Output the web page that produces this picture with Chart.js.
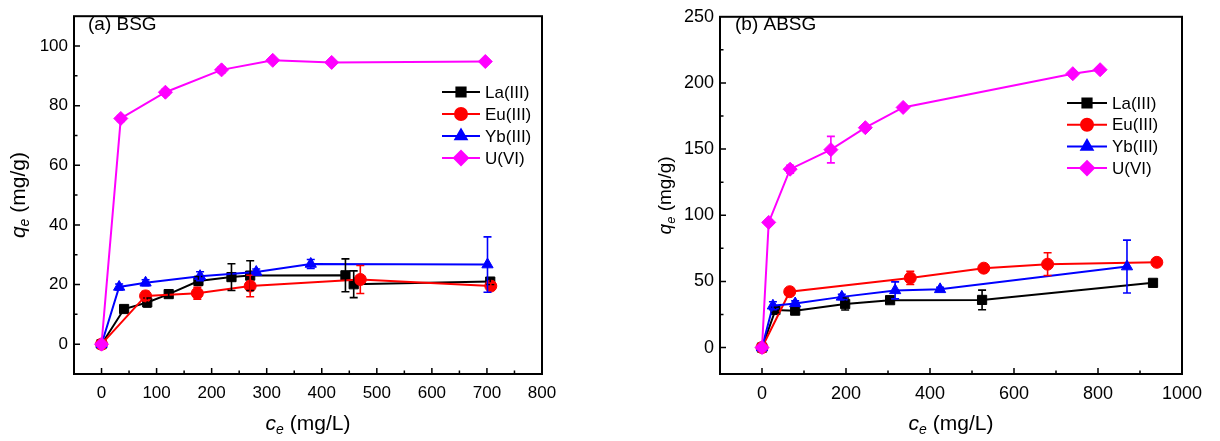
<!DOCTYPE html>
<html>
<head>
<meta charset="utf-8">
<title>Adsorption isotherms</title>
<script src="https://cdn.jsdelivr.net/npm/chart.js@4.4.0/dist/chart.umd.min.js"></script>
<style>
    body { margin: 0; background: #fff; width: 1220px; height: 441px; position: relative; overflow: hidden; }
    .box { position: absolute; top: 0; height: 441px; }
    #boxA { left: 0; width: 610px; }
    #boxB { left: 640px; width: 580px; }
</style>
</head>
<body>
<div class="box" id="boxA"><canvas id="chartA" width="610" height="441"></canvas></div>
<div class="box" id="boxB"><canvas id="chartB" width="580" height="441"></canvas></div>
<script>
// (a) BSG
const laA_x = [0, 41, 83, 122, 176, 236, 270, 443, 458, 706];
const laA_y = [0, 11.8, 14, 16.8, 21.2, 22.5, 23, 23.1, 20.1, 21];
const laA_err = [0, 1, 1.5, 1, 1.5, 4.5, 5, 5.5, 4.5, 1];
const euA_x = [0, 80, 174, 270, 470, 707];
const euA_y = [0, 16.2, 17.1, 19.5, 21.7, 19.5];
const euA_err = [0, 1.5, 2, 3.6, 4.7, 1];
const ybA_x = [0, 32, 80, 179, 281, 380, 701];
const ybA_y = [0, 19.2, 20.6, 22.8, 24.2, 26.9, 26.7];
const ybA_err = [0, 1, 1, 1.5, 1, 1.5, 9.3];
const uA_x = [0, 35, 116, 218, 311, 418, 697];
const uA_y = [0, 75.7, 84.5, 92, 95.2, 94.5, 94.8];
const uA_err = [0, 1, 1, 1, 0.5, 0.5, 0.5];

// (b) ABSG
const laB_x = [0, 32, 79, 198, 305, 524, 931];
const laB_y = [0, 28.4, 27.9, 32.9, 35.8, 36, 48.9];
const laB_err = [0, 2, 2, 4.5, 2, 7.4, 2];
const euB_x = [0, 66, 353, 528, 680, 940];
const euB_y = [0, 42.2, 52.6, 60, 63, 64.4];
const euB_err = [0, 1, 5, 1.5, 8.6, 2];
const ybB_x = [0, 26, 79, 190, 317, 424, 869];
const ybB_y = [0, 31.6, 33.3, 38.3, 43.2, 44, 61.2];
const ybB_err = [0, 3, 2, 2, 6.4, 1.5, 20];
const uB_x = [0, 16, 67, 164, 246, 336, 740, 805];
const uB_y = [0, 94.6, 134.8, 149.6, 166.2, 181.5, 207, 210];
const uB_err = [0, 2, 3, 10, 2, 1.5, 1.5, 1.5];

const seriesNames = ['La(III)', 'Eu(III)', 'Yb(III)', 'U(VI)'];

const xTicksA = [0, 100, 200, 300, 400, 500, 600, 700, 800];
const yTicksA = [0, 20, 40, 60, 80, 100];
const xTicksB = [0, 200, 400, 600, 800, 1000];
const yTicksB = [0, 50, 100, 150, 200, 250];

const FONT = "'Liberation Sans', Arial, sans-serif";
const styles = [
    { color: '#000000', pointStyle: 'rect', radius: 6.5 },
    { color: '#ff0000', pointStyle: 'circle', radius: 6 },
    { color: '#0000ff', pointStyle: 'triangle', radius: 6.5 },
    { color: '#ff00ff', pointStyle: 'rectRot', radius: 7 }
];

function toPoints(xs, ys) {
    return xs.map((x, i) => ({ x: x, y: ys[i] }));
}

function makeDataset(i, xs, ys, errs) {
    let s = styles[i];
    return {
        label: seriesNames[i],
        data: toPoints(xs, ys),
        errors: errs,
        borderColor: s.color,
        backgroundColor: s.color,
        pointBackgroundColor: s.color,
        pointBorderColor: s.color,
        pointStyle: s.pointStyle,
        pointRadius: s.radius,
        pointBorderWidth: 1,
        borderWidth: 2,
        tension: 0,
        order: 3 - i
    };
}

// frame, inward ticks, error bars, legend and axis titles
const decor = {
    id: 'decor',
    afterDatasetsDraw(chart, args, opts) {
        let ctx = chart.ctx;
        let xs = chart.scales.x, ys = chart.scales.y;
        ctx.save();
        ctx.lineWidth = 1.6;
        chart.data.datasets.forEach(ds => {
            ctx.strokeStyle = ds.borderColor;
            ds.data.forEach((p, i) => {
                let e = ds.errors[i];
                if (!e) return;
                let px = xs.getPixelForValue(p.x);
                let top = ys.getPixelForValue(p.y + e);
                let bot = ys.getPixelForValue(p.y - e);
                ctx.beginPath();
                ctx.moveTo(px, top); ctx.lineTo(px, bot);
                ctx.moveTo(px - 4, top); ctx.lineTo(px + 4, top);
                ctx.moveTo(px - 4, bot); ctx.lineTo(px + 4, bot);
                ctx.stroke();
            });
        });
        ctx.restore();
    },
    afterDraw(chart, args, opts) {
        let ctx = chart.ctx;
        let a = chart.chartArea;
        let xs = chart.scales.x, ys = chart.scales.y;
        ctx.save();
        ctx.strokeStyle = '#000';
        ctx.lineWidth = 2;
        ctx.strokeRect(a.left, a.top, a.right - a.left, a.bottom - a.top);

        // ticks pointing into the plot
        ctx.lineWidth = 1.5;
        ctx.beginPath();
        for (let v = opts.xMin; v <= xs.max; v += opts.xMinor) {
            let px = xs.getPixelForValue(v);
            if (px <= a.left + 1 || px >= a.right - 1) continue;
            let len = (v % opts.xMajor === 0) ? 6 : 3.5;
            ctx.moveTo(px, a.bottom); ctx.lineTo(px, a.bottom - len);
        }
        for (let v = opts.yMin; v <= ys.max; v += opts.yMinor) {
            let py = ys.getPixelForValue(v);
            if (py >= a.bottom - 1 || py <= a.top + 1) continue;
            let len = (v % opts.yMajor === 0) ? 6 : 3.5;
            ctx.moveTo(a.left, py); ctx.lineTo(a.left + len, py);
        }
        ctx.stroke();

        // panel label
        ctx.fillStyle = '#000';
        ctx.font = '19px ' + FONT;
        ctx.textBaseline = 'middle';
        ctx.textAlign = 'left';
        ctx.fillText(opts.panel, opts.panelX, 25);

        // legend
        ctx.font = '17px ' + FONT;
        chart.data.datasets.forEach((ds, i) => {
            let y = opts.legY + i * opts.legGap;
            ctx.strokeStyle = ds.borderColor;
            ctx.lineWidth = 2;
            ctx.beginPath();
            ctx.moveTo(opts.legX, y); ctx.lineTo(opts.legX + opts.legLen, y);
            ctx.stroke();
            ctx.fillStyle = ds.borderColor;
            Chart.helpers.drawPoint(ctx, {
                pointStyle: ds.pointStyle, radius: ds.pointRadius, rotation: 0, borderWidth: 1
            }, opts.legX + opts.legLen / 2, y);
            ctx.fillStyle = '#000';
            ctx.fillText(ds.label, opts.legX + opts.legLen + 5, y + 1);
        });

        // x title: c_e (mg/L)
        drawSubTitle(ctx, 'c', 'e', ' (mg/L)', (a.left + a.right) / 2, 423, 0, 21);
        // y title: q_e (mg/g)
        drawSubTitle(ctx, 'q', 'e', ' (mg/g)', opts.yTitleX, (a.top + a.bottom) / 2, -Math.PI / 2, opts.yTitleSize);
        ctx.restore();
    }
};

function drawSubTitle(ctx, main, sub, rest, cx, cy, rot, size) {
    ctx.save();
    ctx.translate(cx, cy);
    ctx.rotate(rot);
    ctx.fillStyle = '#000';
    ctx.textBaseline = 'alphabetic';
    ctx.textAlign = 'left';
    let fMain = 'italic ' + size + 'px ' + FONT;
    let fSub = 'italic ' + Math.round(size * 0.66) + 'px ' + FONT;
    let fRest = size + 'px ' + FONT;
    ctx.font = fMain; let w1 = ctx.measureText(main).width;
    ctx.font = fSub; let w2 = ctx.measureText(sub).width;
    ctx.font = fRest; let w3 = ctx.measureText(rest).width;
    let x = -(w1 + w2 + w3) / 2;
    let base = size * 0.33;
    ctx.font = fMain; ctx.fillText(main, x, base); x += w1;
    ctx.font = fSub; ctx.fillText(sub, x, base + size * 0.2); x += w2;
    ctx.font = fRest; ctx.fillText(rest, x, base);
    ctx.restore();
}

function makeChart(id, datasets, cfg) {
    let ctx = document.getElementById(id).getContext('2d');
    return new Chart(ctx, {
        type: 'line',
        data: { datasets: datasets },
        options: {
            responsive: false,
            animation: false,
            layout: { padding: { top: cfg.padTop, right: cfg.padRight, left: 0, bottom: 0 } },
            plugins: {
                legend: { display: false },
                tooltip: { enabled: false },
                decor: cfg.decor
            },
            scales: {
                x: {
                    type: 'linear',
                    min: cfg.xMin, max: cfg.xMax,
                    afterBuildTicks: s => { s.ticks = cfg.xTicks.map(v => ({ value: v })); },
                    afterFit: s => { s.height = 67; },
                    grid: { display: false, drawTicks: false },
                    border: { display: false },
                    ticks: {
                        color: '#000', font: { family: FONT, size: cfg.tickSize }, padding: 9, maxRotation: 0,
                        callback: v => String(v)
                    }
                },
                y: {
                    type: 'linear',
                    min: cfg.yMin, max: cfg.yMax,
                    afterBuildTicks: s => { s.ticks = cfg.yTicks.map(v => ({ value: v })); },
                    afterFit: s => { s.width = cfg.yWidth; },
                    grid: { display: false, drawTicks: false },
                    border: { display: false },
                    ticks: {
                        color: '#000', font: { family: FONT, size: cfg.tickSize }, padding: 6,
                        callback: v => String(v)
                    }
                }
            }
        },
        plugins: [decor]
    });
}

makeChart('chartA', [
    makeDataset(0, laA_x, laA_y, laA_err),
    makeDataset(1, euA_x, euA_y, euA_err),
    makeDataset(2, ybA_x, ybA_y, ybA_err),
    makeDataset(3, uA_x, uA_y, uA_err)
], {
    xMin: -50, xMax: 800, yMin: -10, yMax: 110,
    xTicks: xTicksA, yTicks: yTicksA, tickSize: 17,
    padTop: 13, padRight: 68, yWidth: 74,
    decor: {
        xMin: 0, xMinor: 50, xMajor: 100, yMin: 0, yMinor: 10, yMajor: 20,
        panel: '(a) BSG', panelX: 88,
        legX: 442, legLen: 38, legY: 92, legGap: 22,
        yTitleX: 18, yTitleSize: 21
    }
});

makeChart('chartB', [
    makeDataset(0, laB_x, laB_y, laB_err),
    makeDataset(1, euB_x, euB_y, euB_err),
    makeDataset(2, ybB_x, ybB_y, ybB_err),
    makeDataset(3, uB_x, uB_y, uB_err)
], {
    xMin: -100, xMax: 1000, yMin: -20, yMax: 250,
    xTicks: xTicksB, yTicks: yTicksB, tickSize: 18,
    padTop: 10, padRight: 38, yWidth: 80,
    decor: {
        xMin: 0, xMinor: 100, xMajor: 200, yMin: 0, yMinor: 25, yMajor: 50,
        panel: '(b) ABSG', panelX: 95,
        legX: 427, legLen: 40, legY: 103, legGap: 21.7,
        yTitleX: 25, yTitleSize: 19
    }
});
</script>
</body>
</html>
